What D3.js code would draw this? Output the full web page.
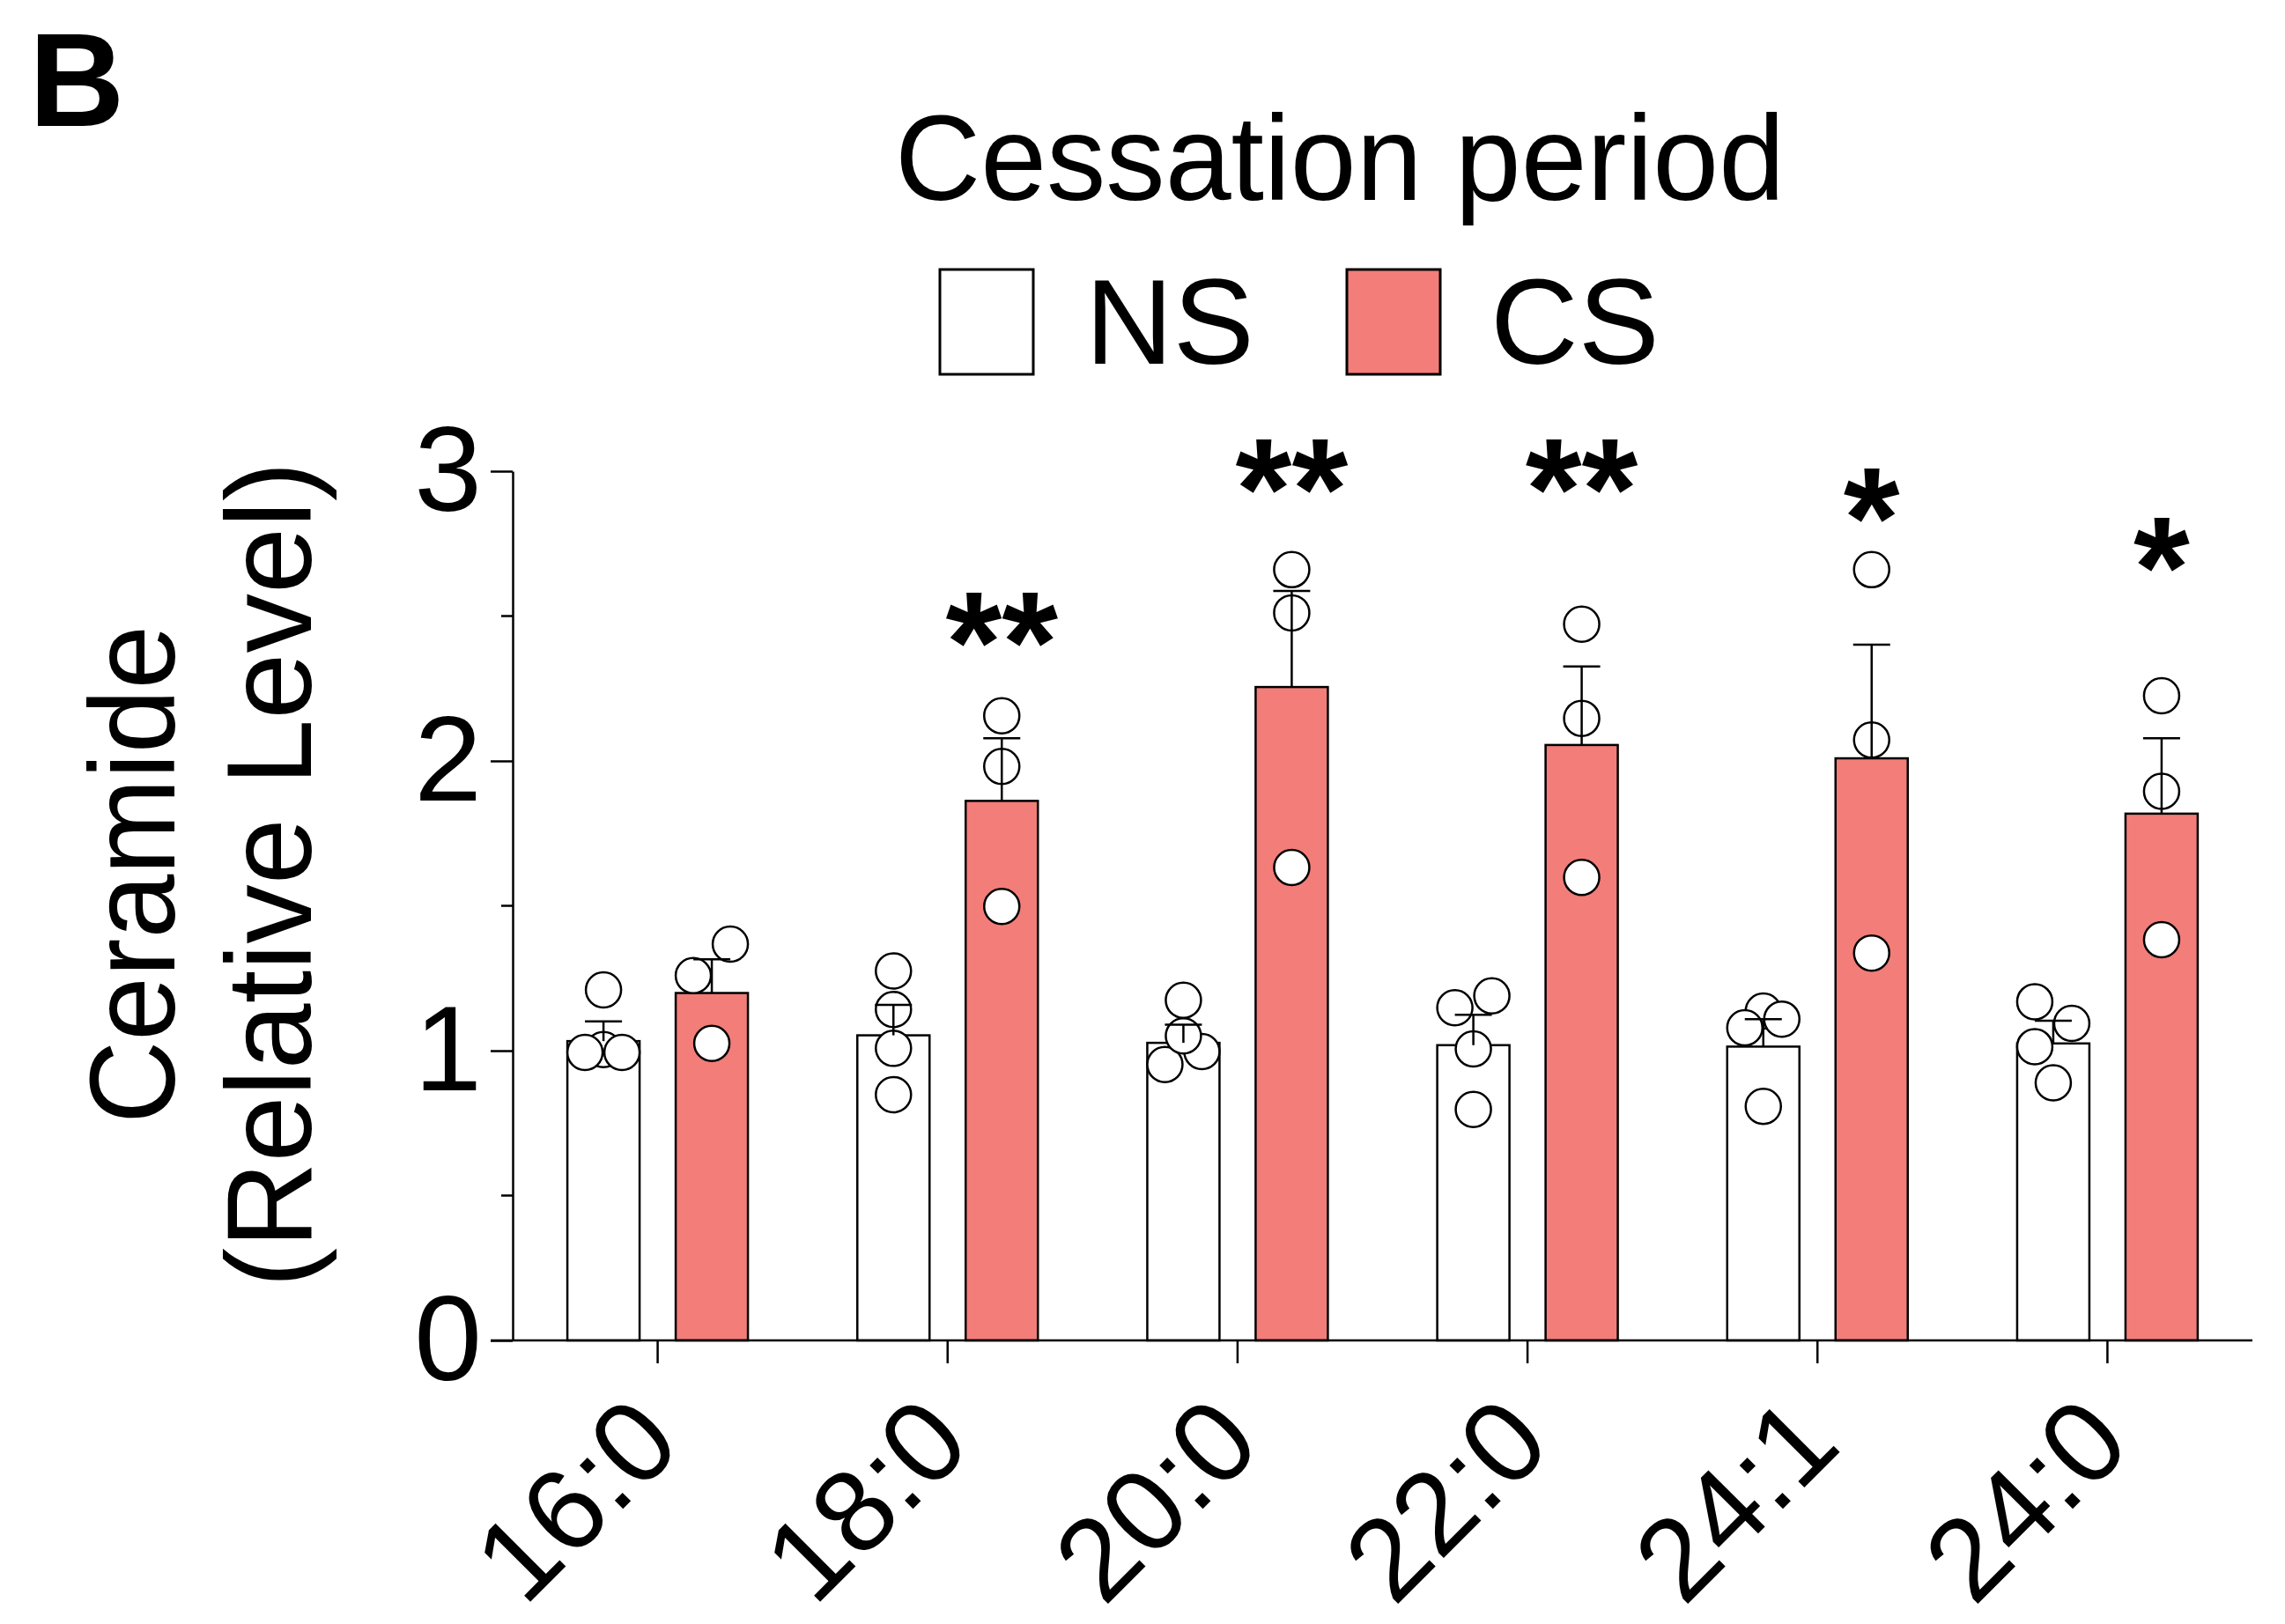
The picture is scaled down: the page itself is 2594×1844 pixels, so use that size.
<!DOCTYPE html>
<html>
<head>
<meta charset="utf-8">
<script src="https://cdn.jsdelivr.net/npm/d3@7"></script>
<style>
  html, body { margin: 0; padding: 0; background: #fff; }
  svg { display: block; }
  text { font-family: "Liberation Sans", Arial, Helvetica, sans-serif; fill: #000; }
</style>
</head>
<body>
<svg id="chart" width="2594" height="1844"></svg>
<script>
// ---------------- data ----------------
const categories = ["16:0", "18:0", "20:0", "22:0", "24:1", "24:0"];
const groups = ["NS", "CS"];
const nsMean = [1.033, 1.053, 1.027, 1.019, 1.014, 1.025];
const csMean = [1.199, 1.862, 2.255, 2.055, 2.009, 1.818];
const nsSem = [0.068, 0.105, 0.063, 0.105, 0.095, 0.078];
const csSem = [0.116, 0.216, 0.332, 0.271, 0.392, 0.260];
const nsPoints = [
  [1.210, 1.004, 0.994, 0.994],
  [1.275, 1.142, 1.008, 0.848],
  [1.174, 0.997, 0.952, 1.051],
  [1.148, 1.189, 1.006, 0.797],
  [1.137, 1.079, 1.109, 0.808],
  [1.169, 1.094, 1.014, 0.889]
];
// horizontal slot of each point (-1 left, 0 centre, +1 right)
const nsSlots = [
  [0, 0, -1, 1],
  [0, 0, 0, 0],
  [0, 1, -1, 0],
  [-1, 1, 0, 0],
  [0, -1, 1, 0],
  [-1, 1, -1, 0]
];
const csPoints = [
  [1.259, 1.368, 1.025],
  [2.156, 1.981, 1.498],
  [2.660, 2.511, 1.632],
  [2.472, 2.147, 1.598],
  [2.660, 2.072, 1.337],
  [2.225, 1.895, 1.383]
];
const csSlots = [
  [-1, 1, 0],
  [0, 0, 0],
  [0, 0, 0],
  [0, 0, 0],
  [0, 0, 0],
  [0, 0, 0]
];
const significance = ["", "**", "**", "**", "*", "*"];
const starLevel = [null, 2.43, 2.96, 2.96, 2.86, 2.69]; // data value at bottom of the stars
const yTicks = [0, 1, 2, 3];
const yMinorTicks = [0.5, 1.5, 2.5];
const titleText = "Cessation period";
const yTitleLines = ["Ceramide", "(Relative Level)"];
const panelLetter = "B";

// ---------------- styles ----------------
const CS_COLOR = "#F27D79";
const NS_COLOR = "#FFFFFF";
const INK = "#000000";
const FONT = 138;
const XFONT = 132;

const svg = d3.select("#chart");

// ---------------- scales ----------------
const x = d3.scaleBand().domain(categories).range([582, 2557])
  .paddingInner(0.3773).paddingOuter(0.3773 / 2);
const xg = d3.scaleBand().domain(groups).range([0, x.bandwidth()]).paddingInner(1 / 3).paddingOuter(0);
const y = d3.scaleLinear().domain([0, 3]).range([1522, 535]);
const colorOf = { NS: NS_COLOR, CS: CS_COLOR };
const POINT_R = 20;
const SLOT = 21;

// ---------------- build records ----------------
const bars = [];
categories.forEach((c, i) => {
  bars.push({ cat: c, grp: "NS", mean: nsMean[i], sem: nsSem[i], pts: nsPoints[i], slots: nsSlots[i] });
  bars.push({ cat: c, grp: "CS", mean: csMean[i], sem: csSem[i], pts: csPoints[i], slots: csSlots[i] });
});
const cx = d => x(d.cat) + xg(d.grp) + xg.bandwidth() / 2;

// ---------------- y axis ----------------
const yAxis = d3.axisLeft(y).tickValues(yTicks).tickSize(25).tickSizeOuter(0).tickPadding(10)
  .tickFormat(d3.format("d"));
const gy = svg.append("g").attr("transform", "translate(582,0)").call(yAxis);
gy.select(".domain").attr("stroke", INK).attr("stroke-width", 2.5);
gy.selectAll(".tick line").attr("stroke", INK).attr("stroke-width", 2.5);
gy.selectAll(".tick text").attr("font-size", FONT).attr("font-family", null).attr("fill", INK);
gy.selectAll(".minor").data(yMinorTicks).enter().append("line")
  .attr("class", "minor")
  .attr("x1", -13).attr("x2", 0)
  .attr("y1", d => y(d)).attr("y2", d => y(d))
  .attr("stroke", INK).attr("stroke-width", 2.5);

// ---------------- bars ----------------
svg.append("g").selectAll("rect").data(bars).enter().append("rect")
  .attr("x", d => x(d.cat) + xg(d.grp))
  .attr("width", xg.bandwidth())
  .attr("y", d => y(d.mean))
  .attr("height", d => y(0) - y(d.mean))
  .attr("fill", d => colorOf[d.grp])
  .attr("stroke", INK).attr("stroke-width", 2.5);

// ---------------- x axis ----------------
const xAxis = d3.axisBottom(x).tickSize(26).tickSizeOuter(0).tickFormat("");
const gx = svg.append("g").attr("transform", `translate(0,${y(0)})`).call(xAxis);
gx.select(".domain").remove();
gx.selectAll(".tick line").attr("stroke", INK).attr("stroke-width", 2.5);
svg.append("line")
  .attr("x1", 557).attr("x2", x.range()[1])
  .attr("y1", y(0)).attr("y2", y(0))
  .attr("stroke", INK).attr("stroke-width", 2.5);
svg.append("g").selectAll("text").data(categories).enter().append("text")
  .attr("transform", d => `translate(${x(d) + x.bandwidth() / 2 + 30},1644) rotate(-45)`)
  .attr("text-anchor", "end")
  .attr("font-size", XFONT)
  .text(d => d);

// ---------------- points ----------------
const pts = [];
bars.forEach(b => b.pts.forEach((v, k) => pts.push({ b, v, s: b.slots[k] })));
svg.append("g").selectAll("circle").data(pts).enter().append("circle")
  .attr("cx", d => cx(d.b) + d.s * SLOT)
  .attr("cy", d => y(d.v))
  .attr("r", POINT_R)
  .attr("fill", "#fff")
  .attr("stroke", INK).attr("stroke-width", 2.5);

// ---------------- error bars ----------------
const eb = svg.append("g").attr("stroke", INK).attr("stroke-width", 2.5);
eb.selectAll(".v").data(bars).enter().append("line")
  .attr("x1", cx).attr("x2", cx)
  .attr("y1", d => y(d.mean)).attr("y2", d => y(d.mean + d.sem));
eb.selectAll(".h").data(bars).enter().append("line")
  .attr("x1", d => cx(d) - 21).attr("x2", d => cx(d) + 21)
  .attr("y1", d => y(d.mean + d.sem)).attr("y2", d => y(d.mean + d.sem));

// ---------------- significance ----------------
const STAR_FONT = 164;
svg.append("g").selectAll("text").data(categories.map((c, i) => ({ c, s: significance[i], l: starLevel[i] })).filter(d => d.s))
  .enter().append("text")
  .attr("x", d => x(d.c) + xg("CS") + xg.bandwidth() / 2)
  .attr("y", d => y(d.l) + STAR_FONT * 0.39)
  .attr("text-anchor", "middle")
  .attr("font-size", STAR_FONT)
  .attr("font-weight", "bold")
  .text(d => d.s);

// ---------------- y title ----------------
svg.append("text")
  .attr("transform", "translate(198,993) rotate(-90)")
  .attr("text-anchor", "middle")
  .attr("font-size", FONT)
  .attr("textLength", 566).attr("lengthAdjust", "spacingAndGlyphs")
  .text(yTitleLines[0]);
svg.append("text")
  .attr("transform", "translate(353,993) rotate(-90)")
  .attr("text-anchor", "middle")
  .attr("font-size", FONT)
  .attr("textLength", 938).attr("lengthAdjust", "spacingAndGlyphs")
  .text(yTitleLines[1]);

// ---------------- title & legend ----------------
svg.append("text").attr("x", 1016).attr("y", 227).attr("font-size", FONT)
  .attr("textLength", 1010).attr("lengthAdjust", "spacingAndGlyphs")
  .text(titleText);
const legendBoxX = [1067, 1529];
const legendTextX = [1232, 1692];
groups.forEach((g, i) => {
  svg.append("rect").attr("x", legendBoxX[i]).attr("y", 306).attr("width", 106).attr("height", 119)
    .attr("fill", colorOf[g]).attr("stroke", INK).attr("stroke-width", 3);
  svg.append("text").attr("x", legendTextX[i]).attr("y", 413).attr("font-size", FONT).text(g);
});

// ---------------- panel letter ----------------
svg.append("text").attr("x", 33).attr("y", 143).attr("font-size", 150).attr("font-weight", "bold").text(panelLetter);
</script>
</body>
</html>
